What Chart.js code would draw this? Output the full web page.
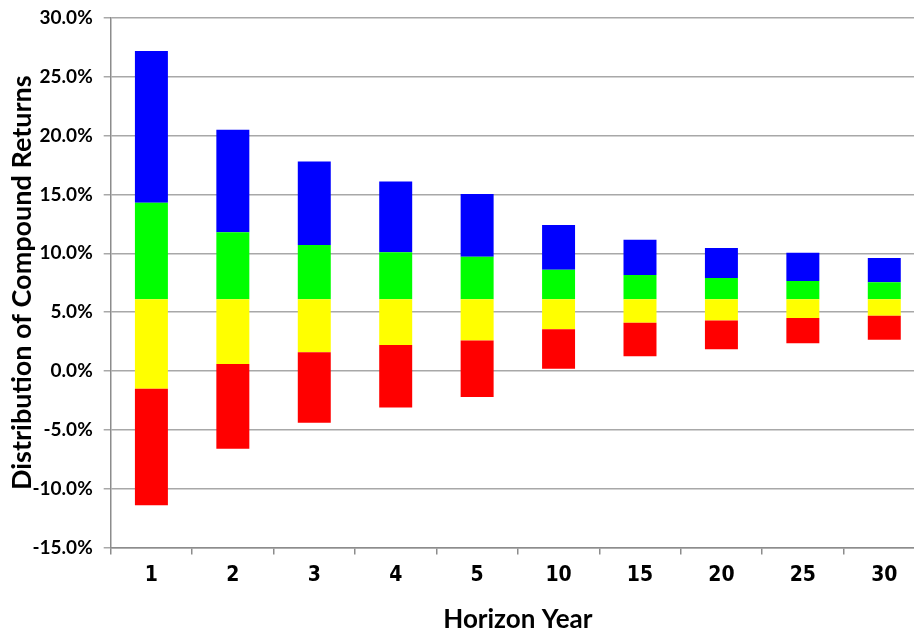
<!DOCTYPE html>
<html>
<head>
<meta charset="utf-8">
<script src="https://cdn.jsdelivr.net/npm/chart.js@4.4.1/dist/chart.umd.min.js"></script>
<style>
  html, body { margin: 0; padding: 0; background: #fff; overflow: hidden; }
  #wrap { width: 940px; height: 635px; }
</style>
</head>
<body>
<div id="wrap"><canvas id="chart" width="940" height="635"></canvas></div>
<script>
const years = ["1", "2", "3", "4", "5", "10", "15", "20", "25", "30"];
// percentile boundaries of compound returns (%)
const lowEnd   = [-11.4, -6.6, -4.4, -3.1, -2.2, 0.2, 1.25, 1.85, 2.35, 2.65];
const lowerQ   = [-1.5, 0.6, 1.6, 2.2, 2.6, 3.55, 4.1, 4.3, 4.5, 4.7];
const median   = [6.1, 6.1, 6.1, 6.1, 6.1, 6.1, 6.1, 6.1, 6.1, 6.1];
const upperQ   = [14.3, 11.8, 10.7, 10.1, 9.7, 8.6, 8.15, 7.9, 7.65, 7.55];
const highEnd  = [27.2, 20.5, 17.8, 16.1, 15.05, 12.4, 11.15, 10.45, 10.05, 9.6];
const yTicks = [-15, -10, -5, 0, 5, 10, 15, 20, 25, 30];

function span(a, b) { return a.map((v, i) => [v, b[i]]); }

const ctx = document.getElementById("chart");
new Chart(ctx, {
  type: "bar",
  data: {
    labels: years,
    datasets: [
      { label: "low", data: span(lowEnd, lowerQ), backgroundColor: "#ff0000" },
      { label: "q2", data: span(lowerQ, median), backgroundColor: "#ffff00" },
      { label: "q3", data: span(median, upperQ), backgroundColor: "#00ff00" },
      { label: "high", data: span(upperQ, highEnd), backgroundColor: "#0000ff" }
    ]
  },
  options: {
    responsive: false,
    animation: false,
    barPercentage: 0.405,
    categoryPercentage: 1,
    layout: { padding: { left: 0, right: 15, top: 18, bottom: 0 } },
    plugins: { legend: { display: false }, tooltip: { enabled: false } },
    scales: {
      x: {
        stacked: true,
        afterFit: s => { s.height = 87.5; },
        grid: { drawOnChartArea: false, drawTicks: true, tickLength: 7, color: "#8c8c8c", lineWidth: 1.5 },
        border: { color: "#8c8c8c", width: 1.5 },
        ticks: { color: "#000", padding: 8,
                 font: { family: "'DejaVu Sans Condensed', 'Liberation Sans Narrow', 'Liberation Sans', sans-serif", weight: "bold", size: 21 } },
        title: { display: true, text: "Horizon Year", color: "#000", padding: { top: 6, bottom: 0 },
                 font: { family: "Lato", weight: "bold", size: 26 } }
      },
      y: {
        stacked: false,
        min: -15, max: 30,
        afterFit: s => { s.width = 110.7; s.paddingTop = 0; s.paddingBottom = 0; },
        afterBuildTicks: s => { s.ticks = yTicks.map(v => ({ value: v })); },
        grid: { color: "#a8a8a8", lineWidth: 1.5, tickLength: 7 },
        border: { color: "#8c8c8c", width: 1.5 },
        ticks: { color: "#000", padding: 11, callback: v => v.toFixed(1) + "%",
                 font: { family: "Lato", weight: "bold", size: 19 } },
        title: { display: true, text: "Distribution of Compound Returns", color: "#000", padding: { top: 6, bottom: 0 },
                 font: { family: "Lato", weight: "bold", size: 27 } }
      }
    }
  }
});
</script>
</body>
</html>
